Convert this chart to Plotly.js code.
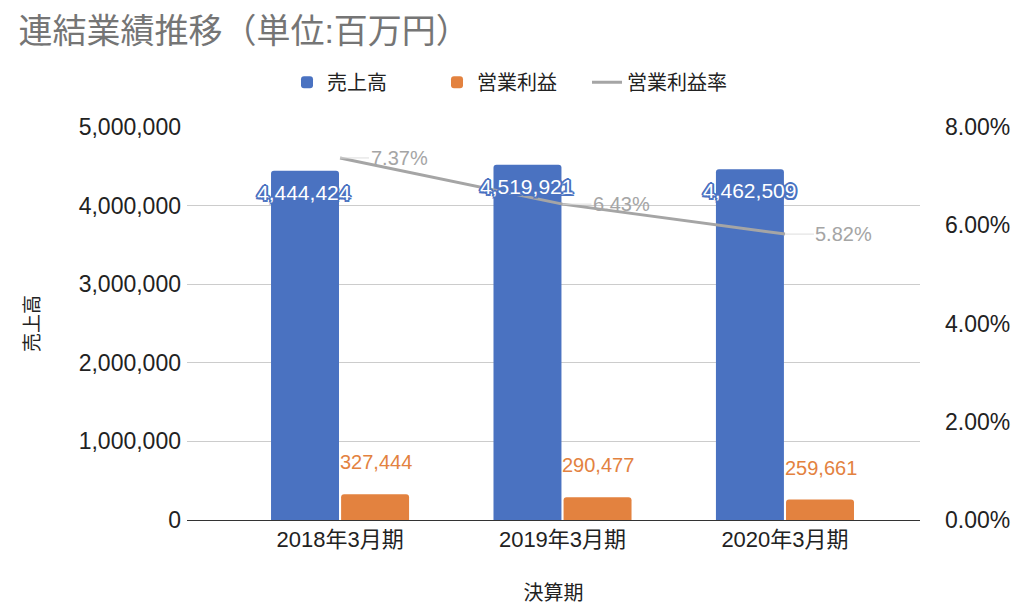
<!DOCTYPE html>
<html>
<head>
<meta charset="utf-8">
<script src="https://cdn.plot.ly/plotly-3.0.1.min.js"></script>
<style>body{margin:0;} #chart{width:1024px;height:613px;}</style>
</head>
<body>
<div id="chart"></div>
<script>
// 決算期ごとの数値 (百万円)
var periods = ["2018年3月期", "2019年3月期", "2020年3月期"];
var sales = [4444424, 4519921, 4462509];
var opProfit = [327444, 290477, 259661];
var opMargin = [0.0737, 0.0643, 0.0582];

var jp = "'Liberation Sans', Arial, 'Noto Sans CJK JP', sans-serif";
var blue = "#4a72c1";
var orange = "#e3823f";
var gray = "#a5a5a5";

var traceSales = {
    x: periods,
    y: sales,
    name: "売上高",
    type: "bar",
    marker: {color: blue, cornerradius: 3}
};
var traceProfit = {
    x: periods,
    y: opProfit,
    name: "営業利益",
    type: "bar",
    marker: {color: orange, cornerradius: 3}
};
var traceMargin = {
    x: periods,
    y: opMargin,
    name: "営業利益率",
    type: "scatter",
    mode: "lines",
    yaxis: "y2",
    line: {color: gray, width: 3}
};

// ラベル
var outline = [[2, 0], [-2, 0], [0, 2], [0, -2], [1.5, 1.5], [-1.5, -1.5], [1.5, -1.5], [-1.5, 1.5]]
    .map(o => o[0] + "px " + o[1] + "px 0 " + blue).join(", ");
var annotations = [];
periods.forEach(function(p, i) {
    annotations.push({
        x: i - 0.16, y: sales[i], xref: "x", yref: "y",
        text: sales[i].toLocaleString("en-US"),
        showarrow: false, yanchor: "top", yshift: -8,
        font: {color: "#ffffff", size: 21, family: jp, shadow: outline}
    });
    annotations.push({
        x: i + 0.16, y: opProfit[i], xref: "x", yref: "y",
        text: opProfit[i].toLocaleString("en-US"),
        showarrow: false, yanchor: "bottom", yshift: 19,
        font: {color: orange, size: 20, family: jp}
    });
    annotations.push({
        x: i, y: opMargin[i], xref: "x", yref: "y2",
        text: (opMargin[i] * 100).toFixed(2) + "%",
        showarrow: true, ax: 59, ay: 0, arrowhead: 0, arrowwidth: 1,
        arrowcolor: "#dddddd", standoff: 0,
        font: {color: gray, size: 20, family: jp}
    });
});

var data = [traceSales, traceProfit, traceMargin];
var layout = {
    width: 1024,
    height: 613,
    margin: {l: 187, r: 104, t: 127, b: 93},
    font: {family: jp, color: "#222222"},
    title: {
        text: "連結業績推移（単位:百万円）",
        xref: "container", x: 0.018, xanchor: "left",
        yref: "container", y: 0.949, yanchor: "middle",
        font: {size: 34, color: "#757575", family: jp}
    },
    showlegend: true,
    legend: {
        orientation: "h",
        xref: "container", x: 0.5, xanchor: "center",
        yref: "container", y: 0.866, yanchor: "middle",
        entrywidth: 105,
        font: {size: 20, family: jp, color: "#222222"}
    },
    barmode: "group",
    bargap: 0.37,
    bargroupgap: 0.03,
    xaxis: {
        title: {text: "決算期", font: {size: 20}, standoff: 34},
        tickfont: {size: 22},
        range: [-0.688, 2.607],
        showgrid: false,
        showline: true,
        linecolor: "#333333",
        linewidth: 1,
        automargin: false
    },
    yaxis: {
        title: {text: "売上高", font: {size: 19}, standoff: 34},
        range: [0, 5000000],
        tickvals: [0, 1000000, 2000000, 3000000, 4000000, 5000000],
        tickformat: ",d",
        tickfont: {size: 23},
        gridcolor: "#cccccc",
        zeroline: false,
        ticklabelstandoff: 5,
        automargin: false
    },
    yaxis2: {
        overlaying: "y",
        side: "right",
        range: [0, 0.08],
        tickvals: [0, 0.02, 0.04, 0.06, 0.08],
        tickformat: ".2%",
        tickfont: {size: 23},
        showgrid: false,
        zeroline: false,
        ticklabelstandoff: 24,
        automargin: false
    },
    annotations: annotations,
    plot_bgcolor: "#ffffff",
    paper_bgcolor: "#ffffff"
};
Plotly.newPlot("chart", data, layout, {displayModeBar: false});
</script>
</body>
</html>
